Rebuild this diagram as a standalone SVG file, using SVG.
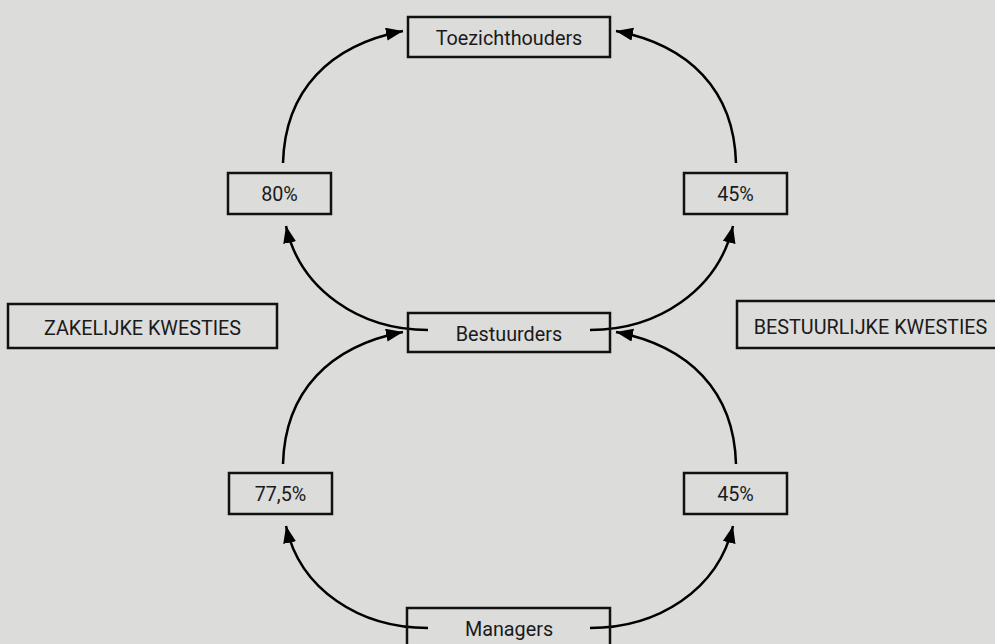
<svg xmlns="http://www.w3.org/2000/svg" width="995" height="644" viewBox="0 0 995 644">
<defs>
<style>
.box{fill:none;stroke:#111;stroke-width:2.5}
.lbl{font-family:Roboto,"Liberation Sans",sans-serif;font-size:19.8px;fill:#1a1a1a;text-anchor:middle}
.con{fill:none;stroke:#000;stroke-width:2.5}
</style>
<marker id="ah" markerUnits="userSpaceOnUse" markerWidth="18" markerHeight="14" refX="17" refY="6.5" orient="auto">
<path d="M0,0 L17,6.5 L0,13 z" fill="#000"/>
</marker>
</defs>
<rect width="995" height="644" fill="#dcdcdb"/>
<g id="connectors">
<path class="con" d="M283,163 C285,90 330,45 403,31" marker-end="url(#ah)"/>
<path class="con" d="M736,163 C734,90 689,45 616,31" marker-end="url(#ah)"/>
<path class="con" d="M428,330 C360,330 300,290 286,226" marker-end="url(#ah)"/>
<path class="con" d="M590,330 C658,330 718,290 733,226" marker-end="url(#ah)"/>
<path class="con" d="M283,464 C285,391 330,346 403,332" marker-end="url(#ah)"/>
<path class="con" d="M736,464 C734,391 689,346 616,332" marker-end="url(#ah)"/>
<path class="con" d="M428,628 C360,628 300,590 286,526" marker-end="url(#ah)"/>
<path class="con" d="M590,628 C658,628 718,590 733,526" marker-end="url(#ah)"/>
</g>
<g id="toezichthouders">
<rect class="box" x="408" y="17" width="202" height="40"/>
<text class="lbl" x="509" y="45">Toezichthouders</text>
</g>
<g id="pct80">
<rect class="box" x="228" y="173" width="103" height="41"/>
<text class="lbl" x="279.5" y="201">80%</text>
</g>
<g id="pct45a">
<rect class="box" x="684" y="173" width="103" height="41"/>
<text class="lbl" x="735.5" y="201">45%</text>
</g>
<g id="zakelijke">
<rect class="box" x="8" y="304" width="269" height="44"/>
<text class="lbl" x="142.5" y="335">ZAKELIJKE KWESTIES</text>
</g>
<g id="bestuurders">
<rect class="box" x="408" y="313" width="202" height="39"/>
<text class="lbl" x="509" y="341">Bestuurders</text>
</g>
<g id="bestuurlijke">
<rect class="box" x="737" y="301" width="270" height="47"/>
<text class="lbl" x="870.5" y="334">BESTUURLIJKE KWESTIES</text>
</g>
<g id="pct775">
<rect class="box" x="229" y="473" width="103" height="41"/>
<text class="lbl" x="280.5" y="501">77,5%</text>
</g>
<g id="pct45b">
<rect class="box" x="684" y="473" width="103" height="41"/>
<text class="lbl" x="735.5" y="501">45%</text>
</g>
<g id="managers">
<rect class="box" x="407" y="608" width="203" height="40"/>
<text class="lbl" x="509" y="636">Managers</text>
</g>
</svg>
